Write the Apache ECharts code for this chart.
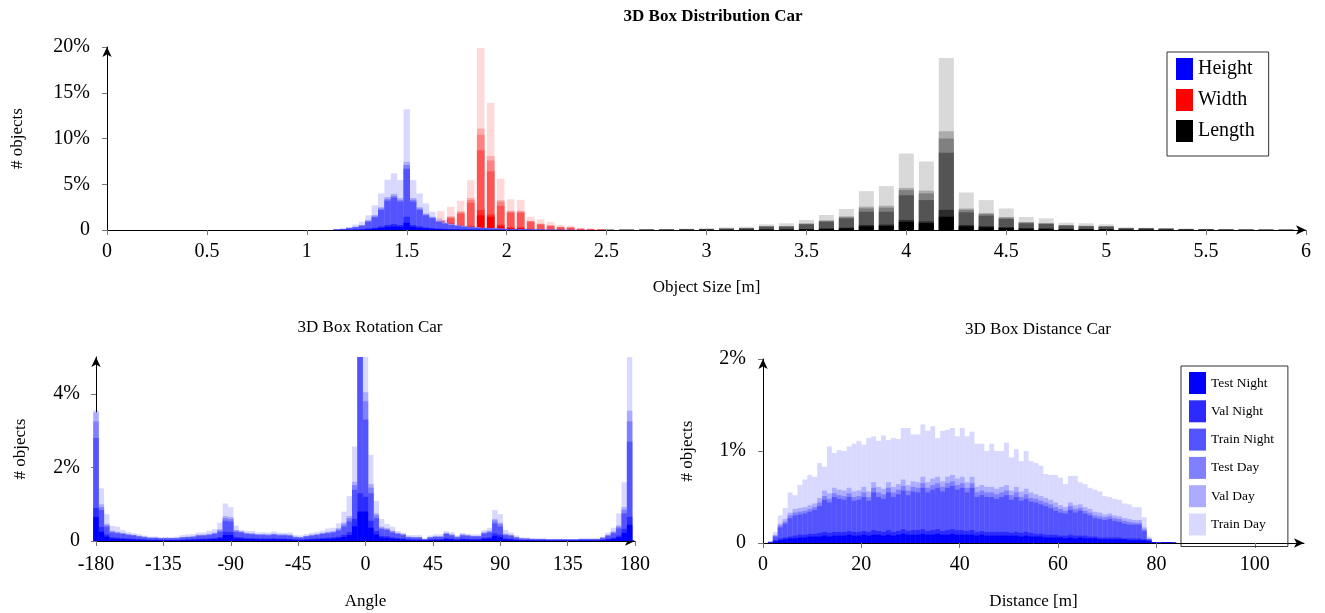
<!DOCTYPE html>
<html>
<head>
<meta charset="utf-8">
<script src="https://cdn.jsdelivr.net/npm/echarts@6/dist/echarts.min.js"></script>
<style>
  html, body { margin: 0; background: #fff; }
  #chart { width: 1325px; height: 613px; }
</style>
</head>
<body>
<div id="chart"></div>
<script>
// subsets, bottom to top of every bar
const LAYERS = ['Test Night', 'Val Night', 'Train Night', 'Test Day', 'Val Day', 'Train Day'];
const ALPHA = [1, 0.83, 0.67, 0.5, 0.33, 0.15];
const FONT = 'Liberation Serif';

// ---- 3D Box Distribution Car (values = top of each subset in the stack, %) ----
const hX = [1.148,1.18,1.212,1.244,1.276,1.308,1.34,1.372,1.404,1.436,1.468,1.5,1.532,1.564,1.596,1.628,1.66,1.692,1.724,1.756,1.788,1.82,1.852,1.884,1.916,1.948,1.98,2.012,2.044,2.076,2.108,2.14,2.172,2.204,2.236,2.268,2.3,2.332,2.364,2.396];
const hTestNight = [.01,.01,.02,.03,.05,.1,.15,.25,.35,.4,.35,.8,.35,.25,.18,.14,.1,.08,.06,.05,.04,.03,.03,.02,.02,.02,.01,.01,.01,.01,.01,.01,0,0,0,0,0,0,0,0];
const hValNight = [.01,.02,.03,.05,.08,.16,.25,.4,.55,.65,.55,1.45,.55,.4,.28,.22,.16,.13,.1,.08,.07,.05,.05,.04,.03,.03,.02,.02,.02,.02,.02,.01,.01,.01,.01,0,0,0,0,0];
const hTrainNight = [.05,.1,.2,.3,.45,.9,1.4,2.2,3.2,3.55,3.1,6.7,3.1,2.2,1.6,1.3,.9,.7,.55,.45,.36,.3,.25,.22,.18,.15,.12,.1,.08,.07,.06,.05,.04,.03,.03,.02,.02,.01,.01,.01];
const hTestDay = [.06,.11,.22,.33,.5,1,1.5,2.35,3.4,3.75,3.3,7.1,3.3,2.35,1.7,1.38,.96,.75,.59,.48,.38,.32,.27,.23,.19,.16,.13,.11,.09,.07,.06,.05,.04,.03,.03,.02,.02,.01,.01,.01];
const hValDay = [.07,.12,.24,.36,.55,1.1,1.65,2.5,3.6,3.95,3.5,7.45,3.5,2.5,1.8,1.45,1.02,.8,.62,.5,.4,.34,.28,.24,.2,.17,.14,.11,.09,.08,.06,.05,.04,.04,.03,.02,.02,.01,.01,.01];
const hTrainDay = [.1,.2,.35,.6,.9,1.6,2.7,4,5.5,6.2,5.45,13.2,5.45,4,2.9,2,1.3,1.1,.8,.6,.5,.4,.35,.3,.25,.2,.18,.15,.12,.1,.08,.07,.06,.05,.04,.03,.03,.02,.02,.01];

const wX = [1.52,1.57,1.62,1.67,1.72,1.77,1.82,1.87,1.92,1.97,2.02,2.07,2.12,2.17,2.22,2.27,2.32,2.37,2.42,2.47];
const wTestNight = [.01,.03,.06,.1,.12,.18,.3,1.6,1.45,.4,.2,.2,.1,.08,.05,.04,.03,.02,.01,.01];
const wValNight = [.02,.05,.1,.15,.2,.28,.45,2.2,1.7,.6,.3,.3,.15,.11,.07,.05,.04,.03,.02,.01];
const wTrainNight = [.08,.2,.5,.9,1.3,1.8,3,8.7,6.4,2.65,1.9,1.9,.9,.6,.45,.3,.25,.12,.08,.05];
const wTestDay = [.09,.22,.55,1,1.42,1.95,3.3,10.4,7.6,3.1,2,2,.95,.65,.48,.32,.27,.13,.09,.05];
const wValDay = [.1,.24,.6,1.08,1.5,2.05,3.5,11.1,8.1,3.27,2.1,2.1,1,.7,.5,.34,.28,.14,.1,.06];
const wTrainDay = [.2,.5,1.1,2.07,2.55,3.2,5.45,19.9,13.9,5.6,3.35,3.3,1.45,1.16,.87,.55,.47,.25,.18,.1];

const lX = [2.5,2.6,2.7,2.8,2.9,3,3.1,3.2,3.3,3.4,3.5,3.6,3.7,3.8,3.9,4,4.1,4.2,4.3,4.4,4.5,4.6,4.7,4.8,4.9,5,5.1,5.2,5.3,5.4,5.5,5.6,5.7,5.8,5.9];
const lTestNight = [.01,.01,.01,.01,.01,.02,.02,.03,.05,.05,.08,.12,.18,.4,.45,.9,.75,1.45,.4,.3,.22,.14,.12,.09,.08,.07,.04,.04,.03,.02,.02,.01,.01,.01,.01];
const lValNight = [.01,.01,.02,.02,.02,.03,.04,.05,.08,.08,.12,.18,.26,.55,.6,1.1,.95,2.2,.55,.42,.32,.2,.18,.13,.11,.1,.05,.05,.04,.03,.02,.02,.01,.01,.01];
const lTrainNight = [.02,.03,.04,.05,.08,.1,.14,.18,.36,.36,.62,.9,1.27,2,2,3.8,3.27,8.44,1.93,1.56,1.2,.73,.65,.47,.4,.36,.18,.18,.14,.1,.08,.06,.05,.04,.03];
const lTestDay = [.02,.03,.04,.06,.09,.11,.15,.2,.4,.4,.68,1,1.4,2.36,2.44,4.36,4,10,2.2,1.75,1.35,.82,.72,.52,.44,.4,.2,.2,.15,.11,.09,.07,.05,.04,.03];
const lValDay = [.02,.03,.05,.06,.1,.12,.16,.22,.43,.43,.72,1.06,1.5,2.55,2.65,4.6,4.3,10.8,2.35,1.85,1.42,.87,.77,.55,.47,.42,.21,.21,.16,.12,.09,.07,.06,.04,.04];
const lTrainDay = [.03,.05,.08,.1,.15,.2,.28,.36,.62,.73,1.1,1.64,2.3,4.25,4.8,8.36,7.5,18.8,4.1,3.27,2.36,1.42,1.27,.8,.73,.62,.3,.25,.2,.15,.12,.1,.08,.06,.05];

// ---- 3D Box Rotation Car: 100 bins of 3.6 deg starting at -180 ----
const rStart = -180, rStep = 3.6;
const rTestNight = [.65,.25,.12,.07,.06,.055,.045,.04,.035,.03, .025,.025,.02,.02,.02,.02,.025,.03,.035,.04, .045,.045,.055,.07,.16,.16,.07,.065,.055,.05, .045,.045,.045,.05,.045,.045,.04,.03,.025,.035, .04,.045,.055,.06,.065,.08,.11,.16,.4,.8, .8,.36,.18,.09,.085,.065,.055,.045,.03,.025, .025,.015,.025,.03,.03,.055,.045,.03,.045,.04, .035,.035,.06,.065,.14,.11,.045,.04,.025,.018, .018,.015,.015,.015,.012,.012,.012,.012,.012,.012, .015,.015,.015,.015,.025,.04,.06,.1,.22,.44];
const rValNight = [.9,.38,.18,.1,.09,.08,.07,.06,.05,.045, .035,.035,.03,.03,.03,.03,.04,.045,.05,.06, .065,.07,.08,.11,.25,.24,.11,.1,.08,.08, .07,.07,.065,.075,.065,.065,.06,.045,.04,.05, .06,.07,.08,.09,.1,.12,.17,.24,.6,1.3, 1.2,.55,.27,.14,.13,.1,.08,.07,.045,.04, .04,.02,.04,.05,.05,.08,.065,.045,.065,.06, .05,.05,.09,.1,.21,.17,.07,.06,.04,.025, .025,.02,.02,.02,.018,.018,.018,.018,.018,.018, .02,.02,.02,.02,.035,.06,.09,.15,.33,.66];
const rTrainNight = [2.8,.84,.39,.23,.21,.19,.16,.15,.12,.1, .08,.08,.07,.07,.07,.07,.09,.1,.11,.14, .15,.16,.19,.25,.55,.53,.25,.23,.19,.18, .16,.16,.15,.17,.15,.15,.14,.1,.09,.12, .14,.16,.19,.21,.23,.28,.39,.53,1.39,6, 3.3,1.3,.62,.32,.3,.23,.19,.16,.1,.09, .09,.05,.09,.11,.11,.19,.15,.1,.15,.14, .12,.12,.2,.23,.48,.39,.16,.14,.09,.06, .06,.05,.05,.05,.04,.04,.04,.04,.04,.04, .05,.05,.05,.05,.08,.14,.21,.34,.75,2.7];
const rTestDay = [3.25,.92,.43,.26,.23,.21,.18,.16,.13,.11, .09,.09,.08,.08,.08,.08,.1,.11,.12,.16, .16,.18,.21,.29,.62,.6,.28,.25,.21,.2, .18,.18,.17,.19,.17,.17,.16,.11,.1,.13, .16,.18,.21,.23,.25,.32,.45,.62,1.52,6.5, 3.8,1.45,.7,.36,.33,.26,.21,.18,.11,.1, .1,.055,.1,.12,.12,.21,.17,.11,.17,.15, .13,.13,.22,.26,.56,.46,.18,.16,.1,.07, .065,.055,.055,.055,.045,.045,.045,.045,.045,.042, .055,.055,.055,.055,.09,.16,.24,.39,.85,3.25];
const rValDay = [3.5,1,.47,.28,.25,.22,.19,.17,.14,.12, .1,.1,.085,.085,.085,.09,.11,.12,.13,.17, .17,.2,.23,.32,.68,.65,.3,.26,.22,.21, .19,.19,.18,.2,.18,.18,.17,.12,.11,.14, .17,.19,.22,.25,.27,.35,.5,.68,1.61,7, 4.04,1.55,.75,.39,.35,.28,.22,.19,.12,.11, .11,.058,.11,.13,.13,.22,.18,.12,.18,.16, .14,.14,.24,.28,.6,.5,.2,.17,.11,.075, .07,.06,.06,.06,.048,.048,.048,.048,.048,.044, .06,.06,.06,.06,.1,.17,.26,.42,.92,3.54];
const rTrainDay = [3.55,1.43,.73,.41,.39,.3,.25,.21,.19,.15, .12,.12,.1,.11,.1,.12,.16,.18,.19,.23, .23,.28,.32,.5,1.02,.92,.42,.3,.27,.27, .23,.24,.23,.26,.23,.22,.23,.16,.15,.19, .22,.25,.28,.34,.36,.48,.8,1.22,2.57,9, 5.6,2.34,1.09,.6,.46,.39,.27,.23,.16,.16, .16,.07,.15,.18,.18,.27,.24,.15,.22,.2, .18,.18,.3,.36,.84,.73,.3,.23,.15,.1, .09,.08,.07,.07,.06,.06,.06,.06,.05,.045, .07,.07,.07,.07,.12,.23,.36,.75,1.6,5.4];

// ---- 3D Box Distance Car: 1 m bins starting at 0 ----
const dStart = 0, dStep = 1;
const dTestNight = [0,.005,.02,.03,.04,.05,.05,.06,.06,.07, .07,.07,.08,.07,.08,.08,.08,.09,.08,.08, .09,.08,.09,.09,.08,.09,.08,.09,.1,.09, .09,.09,.1,.09,.09,.1,.09,.09,.1,.09, .09,.09,.09,.08,.09,.08,.08,.08,.08,.08, .08,.08,.07,.08,.07,.07,.07,.06,.06,.06, .06,.05,.06,.05,.06,.05,.05,.05,.04,.04, .04,.04,.04,.04,.03,.03,.03,.03,.02,.01, .005,.01,.01,.005];
const dValNight = [0,.007,.03,.05,.06,.07,.08,.09,.09,.1, .1,.11,.12,.11,.12,.12,.12,.13,.12,.12, .13,.12,.14,.13,.12,.14,.12,.13,.15,.13, .14,.14,.15,.13,.14,.15,.13,.14,.15,.14, .14,.13,.14,.12,.13,.12,.12,.12,.12,.12, .11,.12,.11,.12,.11,.1,.1,.09,.09,.09, .08,.08,.09,.08,.08,.08,.07,.07,.06,.06, .06,.06,.06,.05,.05,.05,.05,.04,.03,.01, .005,.01,.01,.005];
const dTrainNight = [0,.01,.07,.17,.21,.27,.3,.31,.32,.34, .36,.4,.47,.44,.5,.48,.47,.5,.46,.47, .5,.46,.55,.5,.48,.55,.5,.53,.57,.52, .56,.55,.6,.55,.58,.6,.56,.6,.62,.58, .6,.55,.6,.5,.52,.5,.5,.48,.5,.52, .47,.5,.46,.48,.45,.44,.42,.4,.38,.35, .33,.32,.36,.33,.35,.32,.3,.27,.26,.25, .26,.24,.23,.21,.2,.2,.2,.13,.04,.01, .005,.01,.01,.005];
const dTestDay = [0,.012,.08,.19,.23,.3,.33,.34,.35,.37, .39,.44,.51,.48,.54,.52,.51,.54,.5,.51, .55,.5,.6,.55,.53,.6,.55,.58,.62,.57, .61,.6,.65,.6,.63,.65,.61,.65,.67,.63, .65,.6,.65,.55,.57,.55,.55,.53,.55,.57, .52,.55,.5,.53,.49,.48,.46,.44,.42,.39, .37,.35,.4,.37,.38,.35,.33,.3,.29,.28, .29,.27,.26,.24,.23,.22,.22,.15,.045,.01, .005,.01,.01,.005];
const dValDay = [0,.015,.09,.21,.26,.33,.37,.38,.39,.41, .43,.49,.57,.54,.6,.58,.57,.6,.56,.57, .61,.56,.66,.61,.59,.66,.61,.64,.69,.63, .67,.66,.72,.66,.7,.72,.67,.72,.74,.7, .72,.66,.72,.61,.63,.61,.61,.59,.61,.63, .57,.61,.56,.59,.55,.53,.51,.49,.47,.44, .41,.39,.44,.41,.42,.39,.37,.34,.33,.31, .32,.3,.29,.27,.26,.25,.25,.17,.05,.01, .005,.01,.01,.005];
const dTrainDay = [.005,.02,.12,.3,.38,.55,.52,.63,.69,.74, .72,.87,.83,1.05,.98,1.01,1,1.05,1.08,1.11, 1.07,1.14,1.16,1.11,1.17,1.12,1.14,1.13,1.25,1.25, 1.18,1.18,1.29,1.22,1.27,1.14,1.22,1.23,1.25,1.16, 1.25,1.16,1.21,1.08,1.08,1,1.08,1,1,1.09, .93,1.02,.89,1,.89,.87,.84,.75,.74,.74, .71,.64,.73,.73,.66,.64,.6,.58,.56,.51, .5,.48,.47,.43,.42,.39,.39,.28,.07,.01, .005,.01,.01,.005];

// bin centres for the two bottom charts
const binCentres = (start, step, n) => Array.from({length: n}, (_, k) => +(start + step * k).toFixed(3));
const rX = binCentres(rStart, rStep, rTrainDay.length);
const dX = binCentres(dStart + dStep / 2, dStep, dTrainDay.length);

// the subset colour as it shows on white paper
function tint(rgb, a) {
  return 'rgb(' + rgb.split(',').map(c => Math.round(255 - a * (255 - c))).join(',') + ')';
}

// overlapping bars, tallest (Train Day) at the back; it stays translucent so
// neighbouring groups show through it
function layerSeries(names, rgb, xs, tops, xAxisIndex, yAxisIndex, barWidth) {
  const out = [];
  for (let i = tops.length - 1; i >= 0; i--) {
    out.push({
      type: 'bar',
      name: names[i],
      xAxisIndex: xAxisIndex,
      yAxisIndex: yAxisIndex,
      barWidth: barWidth,
      barGap: '-100%',
      clip: true,
      silent: true,
      itemStyle: { color: i === tops.length - 1 ? 'rgba(' + rgb + ',' + ALPHA[i] + ')' : tint(rgb, ALPHA[i]) },
      data: xs.map((x, k) => [x, tops[i][k]])
    });
  }
  return out;
}

const groupNames = g => LAYERS.map((l, i) => i === 0 ? g : g + ' ' + l);

const axisLine = { onZero: false, lineStyle: { color: '#000', width: 1 }, symbol: ['none', 'arrow'], symbolSize: [7, 10] };
const axisTick = { length: 5, lineStyle: { color: '#777' } };
const labelStyle = { color: '#000', fontFamily: FONT, fontSize: 20 };
const nameStyle = { color: '#000', fontFamily: FONT, fontSize: 17 };
const pctFmt = v => v === 0 ? '0' : v + '%';

function xAxisOf(gridIndex, min, max, interval, extra) {
  return Object.assign({
    type: 'value', gridIndex, min, max, interval,
    axisLine, axisTick, splitLine: { show: false },
    axisLabel: Object.assign({ margin: 12 }, labelStyle),
    nameLocation: 'middle', nameTextStyle: nameStyle
  }, extra || {});
}

function yAxisOf(gridIndex, max, interval, nameGap, extra) {
  return Object.assign({
    type: 'value', gridIndex, min: 0, max, interval,
    axisLine: Object.assign({ show: true }, axisLine), axisTick, splitLine: { show: false },
    axisLabel: Object.assign({ margin: 17, formatter: pctFmt }, labelStyle),
    name: '# objects', nameLocation: 'middle', nameGap, nameTextStyle: nameStyle
  }, extra || {});
}

const chart = echarts.init(document.getElementById('chart'));
chart.setOption({
  animation: false,
  backgroundColor: '#fff',
  textStyle: { fontFamily: FONT },
  title: [
    { text: '3D Box Distribution Car', left: 708, top: 3, textAlign: 'center',
      textStyle: { fontFamily: FONT, fontSize: 17, fontWeight: 'bold', color: '#000' } },
    { text: '3D Box Rotation Car', left: 365, top: 314, textAlign: 'center',
      textStyle: { fontFamily: FONT, fontSize: 17, fontWeight: 'normal', color: '#000' } },
    { text: '3D Box Distance Car', left: 1033, top: 316, textAlign: 'center',
      textStyle: { fontFamily: FONT, fontSize: 17, fontWeight: 'normal', color: '#000' } }
  ],
  legend: [
    { data: ['Height', 'Width', 'Length'], orient: 'vertical', left: 1167, top: 52,
      icon: 'rect', itemWidth: 17, itemHeight: 22, itemGap: 9, padding: [6, 14, 14, 9],
      borderColor: '#333', borderWidth: 1, selectedMode: false,
      textStyle: { color: '#000', fontFamily: FONT, fontSize: 20, lineHeight: 22 } },
    { data: LAYERS, orient: 'vertical', left: 1181, top: 366,
      icon: 'rect', itemWidth: 17, itemHeight: 22, itemGap: 6.3, padding: [6, 14, 11, 8],
      borderColor: '#333', borderWidth: 1, selectedMode: false,
      textStyle: { color: '#000', fontFamily: FONT, fontSize: 13.5, lineHeight: 22 } }
  ],
  grid: [
    { left: 107, top: 47, width: 1199, height: 183 },
    { left: 96, top: 357, width: 539, height: 184 },
    { left: 763, top: 359, width: 541, height: 184 }
  ],
  xAxis: [
    xAxisOf(0, 0, 6, 0.5, { name: 'Object Size [m]', nameGap: 49 }),
    xAxisOf(0, 0, 6, 0.5, { show: false }),
    xAxisOf(0, 0, 6, 0.5, { show: false }),
    xAxisOf(1, -180, 180, 45, { name: 'Angle', nameGap: 52,
      axisLabel: Object.assign({ margin: 14 }, labelStyle) }),
    xAxisOf(2, 0, 110, 20, { name: 'Distance [m]', nameGap: 50,
      axisLabel: Object.assign({ margin: 12, customValues: [0, 20, 40, 60, 80, 100] }, labelStyle),
      axisTick: Object.assign({ customValues: [0, 20, 40, 60, 80, 100] }, axisTick) })
  ],
  yAxis: [
    yAxisOf(0, 20, 5, 81),
    yAxisOf(1, 5, 2, 67, {
      axisTick: Object.assign({ customValues: [0, 2, 4] }, axisTick),
      axisLabel: Object.assign({ margin: 16, formatter: pctFmt, customValues: [0, 2, 4] }, labelStyle) }),
    yAxisOf(2, 2, 1, 67)
  ],
  series: [].concat(
    layerSeries(groupNames('Length'), '0,0,0', lX,
      [lTestNight, lValNight, lTrainNight, lTestDay, lValDay, lTrainDay], 2, 0, 15),
    layerSeries(groupNames('Width'), '255,0,0', wX,
      [wTestNight, wValNight, wTrainNight, wTestDay, wValDay, wTrainDay], 1, 0, 7.5),
    layerSeries(groupNames('Height'), '0,0,255', hX,
      [hTestNight, hValNight, hTrainNight, hTestDay, hValDay, hTrainDay], 0, 0, 6.4),
    layerSeries(LAYERS, '0,0,255', rX,
      [rTestNight, rValNight, rTrainNight, rTestDay, rValDay, rTrainDay], 3, 1, 5.4),
    layerSeries(LAYERS, '0,0,255', dX,
      [dTestNight, dValNight, dTrainNight, dTestDay, dValDay, dTrainDay], 4, 2, 4.9)
  )
});
</script>
</body>
</html>
